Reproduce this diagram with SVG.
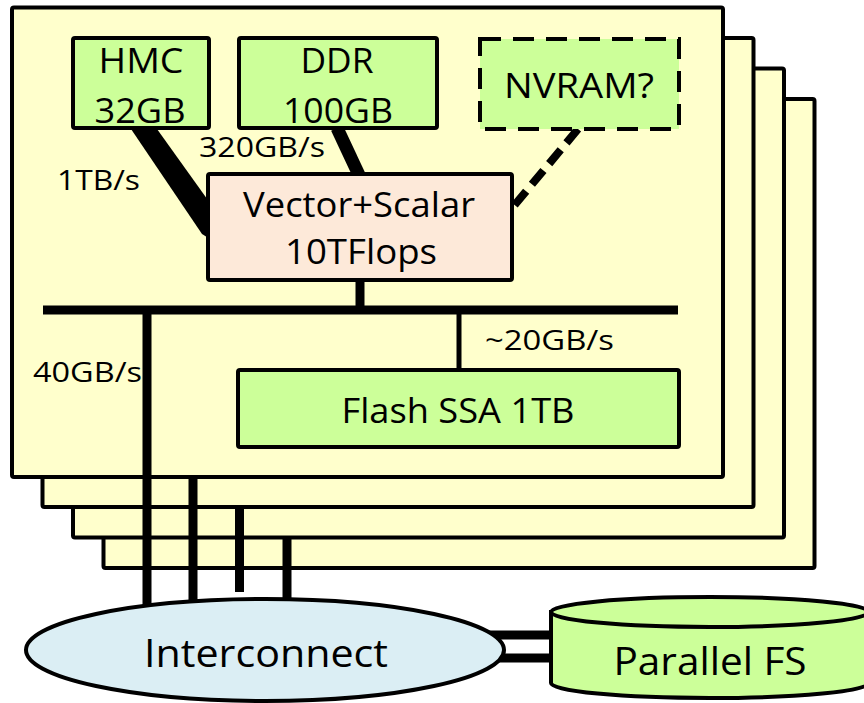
<svg xmlns="http://www.w3.org/2000/svg" width="864" height="703" viewBox="0 0 864 703">
  <style>
    .card { fill: #ffffcc; stroke: #000; stroke-width: 4; }
    .mem { fill: #ccff99; stroke: #000; stroke-width: 4; }
    .cpu { fill: #fde9d9; stroke: #000; stroke-width: 4; }
    .wire { stroke: #000; fill: none; stroke-linecap: butt; }
    text { font-family: "Open Sans", "Noto Sans", sans-serif; fill: #000; }
    .big { font-size: 34px; }
    .lbl { font-size: 28px; }
  </style>

  <rect x="0" y="0" width="864" height="703" fill="#fff"/>

  <!-- stacked node boards, back to front -->
  <g id="board4"><rect class="card" x="103.5" y="99" width="711" height="469" rx="2"/></g>
  <g id="board3"><rect class="card" x="73" y="68.5" width="711" height="469" rx="2"/></g>
  <g id="board2"><rect class="card" x="42.5" y="38" width="711" height="469" rx="2"/></g>
  <g id="board1"><rect class="card" x="12" y="7.5" width="711" height="469.5" rx="2"/></g>

  <!-- connectors -->
  <g id="connectors">
    <!-- HMC link (1TB/s) -->
    <polygon points="131,129 157,129 210,203 210,239 202,234" fill="#000"/>
    <!-- DDR link (320GB/s) -->
    <line class="wire" x1="337" y1="128" x2="359" y2="175" stroke-width="13"/>
    <!-- NVRAM link -->
    <line class="wire" x1="578" y1="129" x2="513" y2="207" stroke-width="8" stroke-dasharray="18 9"/>
    <!-- CPU to bus -->
    <line class="wire" x1="360" y1="280" x2="360" y2="310" stroke-width="9"/>
    <!-- bus -->
    <line class="wire" x1="43" y1="310" x2="678" y2="310" stroke-width="9"/>
    <!-- bus to flash -->
    <line class="wire" x1="459" y1="310" x2="459" y2="372" stroke-width="5"/>
    <!-- board uplinks to interconnect -->
    <line class="wire" x1="147" y1="310" x2="147" y2="606" stroke-width="9"/>
    <line class="wire" x1="193" y1="479" x2="193" y2="602" stroke-width="9"/>
    <line class="wire" x1="239.5" y1="509" x2="239.5" y2="592" stroke-width="9"/>
    <line class="wire" x1="287" y1="539" x2="287" y2="600" stroke-width="9"/>
    <!-- interconnect to parallel FS -->
    <line class="wire" x1="488" y1="635" x2="554" y2="635" stroke-width="9"/>
    <line class="wire" x1="490" y1="658" x2="554" y2="658" stroke-width="9"/>
  </g>

  <g id="hmc">
    <rect class="mem" x="73" y="38" width="136" height="90" rx="2"/>
    <text class="big" x="141" y="73" text-anchor="middle" textLength="85" lengthAdjust="spacingAndGlyphs">HMC</text>
    <text class="big" x="140" y="123" text-anchor="middle" textLength="91" lengthAdjust="spacingAndGlyphs">32GB</text>
  </g>

  <g id="ddr">
    <rect class="mem" x="239" y="38" width="198" height="90" rx="2"/>
    <text class="big" x="337" y="73" text-anchor="middle" textLength="73" lengthAdjust="spacingAndGlyphs">DDR</text>
    <text class="big" x="338" y="123" text-anchor="middle" textLength="110" lengthAdjust="spacingAndGlyphs">100GB</text>
  </g>

  <g id="nvram">
    <rect x="480" y="39" width="199" height="90" fill="#ccff99"/>
    <rect x="480" y="39" width="199" height="90" fill="none" stroke="#000" stroke-width="4" stroke-dasharray="21 12"/>
    <text x="579" y="98" text-anchor="middle" font-size="35" textLength="150" lengthAdjust="spacingAndGlyphs">NVRAM?</text>
  </g>

  <g id="cpu">
    <rect class="cpu" x="208" y="174" width="304" height="106" rx="2"/>
    <text class="big" x="359" y="217" text-anchor="middle" textLength="232" lengthAdjust="spacingAndGlyphs">Vector+Scalar</text>
    <text class="big" x="361" y="264" text-anchor="middle" textLength="152" lengthAdjust="spacingAndGlyphs">10TFlops</text>
  </g>

  <g id="flash">
    <rect class="mem" x="238" y="370" width="441" height="77" rx="2"/>
    <text class="big" x="458" y="423" text-anchor="middle" textLength="233" lengthAdjust="spacingAndGlyphs">Flash SSA 1TB</text>
  </g>

  <!-- bandwidth labels -->
  <g id="labels">
    <text class="lbl" x="199" y="157" textLength="126" lengthAdjust="spacingAndGlyphs">320GB/s</text>
    <text class="lbl" x="57" y="190" textLength="83" lengthAdjust="spacingAndGlyphs">1TB/s</text>
    <text class="lbl" x="485" y="350" textLength="129" lengthAdjust="spacingAndGlyphs">~20GB/s</text>
    <text class="lbl" x="33" y="382" textLength="109" lengthAdjust="spacingAndGlyphs">40GB/s</text>
  </g>

  <g id="interconnect">
    <ellipse cx="265" cy="650" rx="239" ry="51" fill="#dbeef4" stroke="#000" stroke-width="4"/>
    <text x="266" y="667" text-anchor="middle" font-size="38" textLength="244" lengthAdjust="spacingAndGlyphs">Interconnect</text>
  </g>

  <g id="parallel-fs">
    <path d="M551,612 L551,683 A159,15 0 0 0 869,683 L869,612 Z" fill="#ccff99" stroke="#000" stroke-width="4"/>
    <ellipse cx="710" cy="612" rx="159" ry="15" fill="#ccff99" stroke="#000" stroke-width="4"/>
    <text x="710" y="675" text-anchor="middle" font-size="38" textLength="193" lengthAdjust="spacingAndGlyphs">Parallel FS</text>
  </g>
</svg>
